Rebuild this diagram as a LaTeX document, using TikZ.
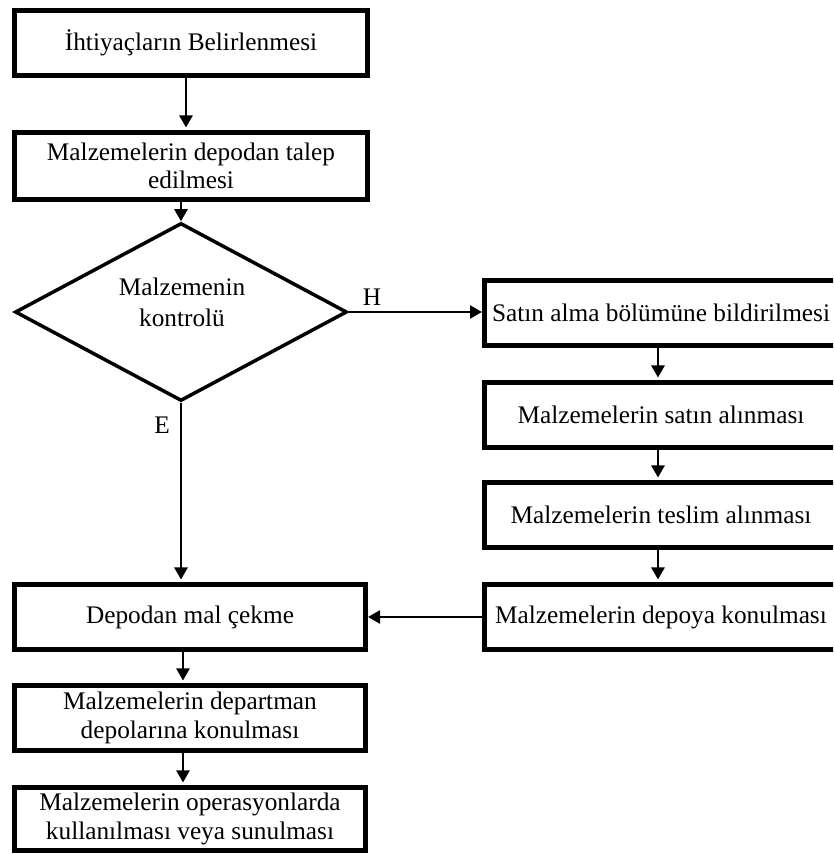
\documentclass[tikz,border=0pt]{standalone}
\usepackage{fontspec}
\setmainfont{Liberation Serif}
\usetikzlibrary{arrows.meta,shapes.geometric}

\tikzset{
  stepbox/.style={draw, line width=5pt, inner sep=0pt, align=center,
    minimum width=353pt, minimum height=65pt},
  decision/.style={draw, shape=diamond, line width=3.5pt, inner sep=0pt,
    minimum width=332pt, minimum height=178pt},
  flow/.style={line width=2.5pt, -{Triangle[length=12pt,width=13pt]}},
  tag/.style={inner sep=0pt}
}

\begin{document}
\begin{tikzpicture}[x=1pt, y=1pt,
  every node/.append style={font=\fontsize{25.3}{28.5}\selectfont}]
  \useasboundingbox (0,0) rectangle (833,854);
  \clip (0,0) rectangle (833,854);

  % main column
  \node[stepbox] (b1) at (191,811) {İhtiyaçların Belirlenmesi};
  \node[stepbox, minimum height=67pt] (b2) at (191,688)
    {Malzemelerin depodan talep\\edilmesi};
  \node[decision] (dec) at (181,542) {};
  \node[tag, align=center, font=\fontsize{25.3}{31}\selectfont] (dectext) at (182,552)
    {Malzemenin\\kontrolü};

  % purchasing column
  \node[stepbox] (r1) at (661,541) {Satın alma bölümüne bildirilmesi};
  \node[stepbox] (r2) at (661,439) {Malzemelerin satın alınması};
  \node[stepbox] (r3) at (661,339) {Malzemelerin teslim alınması};
  \node[stepbox] (r4) at (661,237) {Malzemelerin depoya konulması};

  % lower column
  \node[stepbox, minimum width=351pt] (l1) at (190,237) {Depodan mal çekme};
  \node[stepbox, minimum width=351pt] (l2) at (190,136)
    {Malzemelerin departman\\depolarına konulması};
  \node[stepbox, minimum width=351pt, minimum height=63pt] (l3) at (190,35)
    {Malzemelerin operasyonlarda\\kullanılması veya sunulması};

  % connectors
  \draw[flow, shorten >=2.5pt] ([xshift=-5pt]b1.south) -- ([xshift=-5pt]b2.north);
  \draw[flow] (b2.south -| dec.north) -- (dec.north);
  \draw[flow] (dec.east) -- (dec.east -| r1.west);
  \node[tag] (hlabel) at (372,557) {H};
  \draw[flow, shorten >=2.5pt] (dec.south) -- (dec.south |- l1.north);
  \node[tag] (elabel) at (162,429) {E};

  \draw[flow, shorten >=2.5pt] ([xshift=-3pt]r1.south) -- ([xshift=-3pt]r2.north);
  \draw[flow, shorten >=2.5pt] ([xshift=-3pt]r2.south) -- ([xshift=-3pt]r3.north);
  \draw[flow, shorten >=2.5pt] ([xshift=-3pt]r3.south) -- ([xshift=-3pt]r4.north);
  \draw[flow] (r4.west) -- (l1.east);

  \draw[flow, shorten >=2.5pt] ([xshift=-7pt]l1.south) -- ([xshift=-7pt]l2.north);
  \draw[flow, shorten >=2.5pt] ([xshift=-7pt]l2.south) -- ([xshift=-7pt]l3.north);
\end{tikzpicture}
\end{document}
